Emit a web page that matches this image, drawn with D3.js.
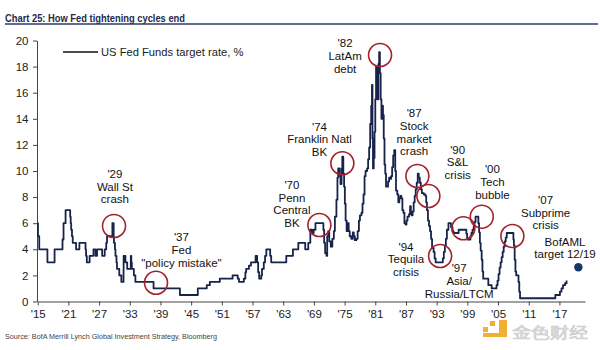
<!DOCTYPE html>
<html><head><meta charset="utf-8">
<script src="https://cdn.jsdelivr.net/npm/d3@7"></script>
<style>
body{margin:0;background:#fff}
svg{display:block}
text{font-family:"Liberation Sans",Arial,sans-serif}
</style></head>
<body><svg id="c" width="600" height="350"></svg>
<script>
// ---------- DATA ----------
const title = "Chart 25: How Fed tightening cycles end";
const seriesName = "US Fed Funds target rate, %";
const source = "Source:  BofA Merrill Lynch Global Investment Strategy, Bloomberg";

const xTickYears = [1915,1921,1927,1933,1939,1945,1951,1957,1963,1969,1975,1981,1987,1993,1999,2005,2011,2017];
const xTickLabels = ["'15","'21","'27","'33","'39","'45","'51","'57","'63","'69","'75","'81","'87","'93","'99","'05","'11","'17"];
const yTicks = [0,2,4,6,8,10,12,14,16,18,20];

// rate changes: year (decimal) at which the level starts, and the level (%)
const rateYears = [
1915.0,1915.05,1915.3,1916.9,1918.3,1919.85,1920.05,1920.45,1921.35,1921.45,1921.55,1921.7,1921.85,1922.5,1923.15,1924.35,1924.45,1924.6,1925.15,1925.9,
1926.3,1926.6,1927.6,1928.1,1928.4,1928.55,1929.6,1929.85,1929.9,1930.1,1930.2,1930.4,1930.5,1930.95,1931.35,1931.78,1931.8,1932.15,1932.5,1933.2,
1933.3,1933.4,1933.8,1934.1,1937.65,1942.8,1946.3,1948.05,1948.65,1950.6,1953.1,1954.1,1954.35,1955.3,1955.6,1955.75,1956.3,1956.7,1957.6,1957.9,
1958.1,1958.3,1958.7,1958.85,1959.2,1959.45,1959.7,1960.45,1960.65,1963.6,1964.9,1965.95,1967.3,1967.9,1968.3,1968.65,1968.95,1969.3,1970.85,1971.0,
1971.2,1971.45,1971.6,1971.8,1972.0,1972.3,1972.6,1972.9,1973.1,1973.4,1973.6,1973.75,1974.0,1974.2,1974.4,1974.55,1974.75,1974.9,1975.05,1975.2,
1975.4,1975.6,1975.8,1976.0,1976.3,1976.6,1976.8,1977.0,1977.3,1977.55,1977.8,1978.0,1978.3,1978.5,1978.7,1978.9,1979.1,1979.4,1979.6,1979.8,
1980.0,1980.2,1980.35,1980.45,1980.55,1980.7,1980.85,1981.0,1981.15,1981.3,1981.45,1981.6,1981.75,1981.9,1982.05,1982.2,1982.35,1982.5,1982.65,1982.8,
1982.95,1983.1,1983.3,1983.5,1983.7,1983.9,1984.1,1984.3,1984.5,1984.7,1984.9,1985.05,1985.3,1985.5,1985.7,1985.9,1986.1,1986.3,1986.5,1986.7,
1986.9,1987.1,1987.3,1987.6,1987.8,1987.95,1988.1,1988.3,1988.5,1988.7,1988.9,1989.1,1989.3,1989.5,1989.7,1989.9,1990.1,1990.5,1990.8,1990.95,
1991.1,1991.3,1991.5,1991.7,1991.9,1992.1,1992.4,1992.6,1992.8,1994.2,1994.4,1994.6,1994.8,1995.0,1995.3,1995.8,1996.1,1996.3,1997.3,1998.8,
1998.95,1999.05,1999.6,1999.8,2000.0,2000.25,2000.4,2000.6,2001.15,2001.3,2001.45,2001.6,2001.8,2001.95,2002.1,2003.1,2003.75,2004.7,2004.9,2005.1,
2005.3,2005.5,2005.7,2005.9,2006.1,2006.3,2006.5,2006.7,2008.0,2008.1,2008.25,2008.4,2008.55,2009.0,2009.15,2009.3,2016.2,2017.1,2017.4,2017.7,
2018.1,2018.4];
const rateValues = [
6,5,4,3,4,4.75,6,7,6.5,6,5.5,5,4.5,4,4.5,4,3.5,3,3.5,4,
3.5,4,3.5,4,4.5,5,6,5,4.5,4,3.5,3,2.5,2,1.5,2.5,3.5,3,2.5,3.5,
3,2.5,2,1.5,1,0.5,1,1.25,1.5,1.75,2,1.75,1.5,1.75,2.25,2.5,2.75,3,3.5,3,
2.25,1.75,2,2.5,3,3.5,4,3.5,3,3.5,4,4.5,4,4.5,5.5,5.25,5.5,6,5.5,4.5,
3.7,3.5,5.0,5.4,4.6,4.2,4.8,5.4,6.5,7.8,9.5,10.2,9.6,9.0,10.2,11.1,9.8,8.8,7.5,6.2,
5.4,6.0,5.4,5.0,4.8,5.3,5.0,4.7,4.8,5.4,6.2,6.6,6.8,7.5,8.2,9.6,10.0,10.2,10.9,11.8,
13.6,15.0,16.6,12.5,10.2,11.0,13.0,15.5,18.0,16.0,15.5,18.2,19.1,17.5,15.5,14.0,15.0,14.3,12.5,10.5,
9.8,8.8,8.8,9.2,9.5,9.4,9.6,10.3,11.2,11.6,10.0,8.5,8.2,7.6,7.9,8.1,7.9,7.0,6.8,6.0,
5.9,6.2,6.5,6.7,7.3,6.8,6.6,6.9,7.6,8.1,8.6,9.1,9.8,9.5,9.1,8.6,8.3,8.2,8.1,7.6,
7.0,6.2,5.8,5.4,4.8,4.1,3.8,3.3,3.0,3.3,3.8,4.3,4.8,5.5,6.0,5.7,5.4,5.25,5.5,5.2,
4.9,4.75,5.0,5.25,5.5,5.8,6.1,6.5,6.0,5.3,4.5,3.9,3.2,2.3,1.75,1.25,1.0,1.25,1.6,2.1,
2.6,3.0,3.4,3.8,4.2,4.6,4.9,5.25,4.75,4.3,3.2,2.3,2.0,1.5,0.75,0.25,0.5,0.75,1.0,1.25,
1.4,1.6];

// crisis circles (year, level)
const circleYears  = [1929.92,1938.13,1970.07,1974.56,1981.93,1989.23,1991.38,1993.67,1998.22,2001.82,2007.8];
const circleValues = [5.79,1.44,5.86,10.59,18.89,9.62,8.08,3.49,5.61,6.5,5.02];

// annotation labels: lines, anchor year and level of first line
const labelLines = [
  ["'29","Wall St","crash"],
  ["'37","Fed","\"policy mistake\""],
  ["'70","Penn","Central","BK"],
  ["'74","Franklin Natl","BK"],
  ["'82","LatAm","debt"],
  ["'87","Stock","market","crash"],
  ["'90","S&L","crisis"],
  ["'94","Tequila","crisis"],
  ["'97","Asia/","Russia/LTCM"],
  ["'00","Tech","bubble"],
  ["'07","Subprime","crisis"],
  ["BofAML","target 12/19"]
];
const labelYears  = [1930.1,1943.1,1964.7,1970.1,1975.1,1988.6,1997.1,1987.0,1997.4,2003.9,2014.3,2018.1];
const labelValues = [9.77,4.92,8.93,13.39,19.79,14.42,11.64,4.2,2.54,10.13,7.78,4.58];

// BofAML target end-2019
const targetYear = [2020.7];
const targetValue = [2.62];

// ---------- DRAW ----------
const svg = d3.select('#c');
const x = d3.scaleLinear().domain([1915,2022]).range([37.7,585]);
const y = d3.scaleLinear().domain([0,20]).range([301.5,40.5]);
const navy = "#17234a";
const red = "#a3222b";

// title
svg.append('text').attr('x',5).attr('y',21.5).text(title)
  .attr('font-weight','bold').attr('font-size',11.5).attr('fill','#1f2a4d')
  .attr('textLength',180).attr('lengthAdjust','spacingAndGlyphs');
svg.append('line').attr('x1',5).attr('x2',598).attr('y1',24).attr('y2',24)
  .attr('stroke','#2b3a6b').attr('stroke-width',1.6);

// axes
const xAxis = d3.axisBottom(x).tickValues(xTickYears).tickFormat((d,i)=>xTickLabels[i])
  .tickSizeInner(4).tickSizeOuter(0).tickPadding(4.5);
const gx = svg.append('g').attr('transform',`translate(0,${y(0)})`).call(xAxis);
const yAxis = d3.axisLeft(y).tickValues(yTicks).tickSizeInner(4).tickSizeOuter(0).tickPadding(4.5);
const gy = svg.append('g').attr('transform',`translate(${x(1915)-0.7},0)`).call(yAxis);
[gx,gy].forEach(g=>{
  g.selectAll('text').attr('font-size',11.5).attr('fill','#222')
    .style('font-family','"Liberation Sans",Arial,sans-serif');
  g.selectAll('path,line').attr('stroke','#444').attr('stroke-width',1);
});

// legend
svg.append('line').attr('x1',63).attr('x2',98).attr('y1',52).attr('y2',52)
  .attr('stroke','#111').attr('stroke-width',1.6);
svg.append('text').attr('x',101).attr('y',52).attr('dy','0.35em').attr('font-size',11.2)
  .attr('fill','#222').text(seriesName);

// series line
const pts = rateYears.map((yr,i)=>[yr,rateValues[i]]);
const line = d3.line().x(d=>x(d[0])).y(d=>y(d[1])).curve(d3.curveStepAfter);
svg.append('path').datum(pts).attr('d',line).attr('fill','none')
  .attr('stroke',navy).attr('stroke-width',1.8).attr('stroke-linejoin','round');

// circles
svg.selectAll('circle.crisis').data(circleYears).enter().append('circle')
  .attr('class','crisis').attr('cx',d=>x(d)).attr('cy',(d,i)=>y(circleValues[i]))
  .attr('r',11.5).attr('fill','none').attr('stroke',red).attr('stroke-width',1.6);

// labels
labelLines.forEach((lines,i)=>{
  const t = svg.append('text').attr('x',x(labelYears[i])).attr('y',y(labelValues[i]))
    .attr('text-anchor','middle').attr('font-size',11.5).attr('fill','#111');
  lines.forEach((l,j)=>{
    t.append('tspan').attr('x',x(labelYears[i])).attr('dy', j===0 ? '0.35em' : '1.1em').text(l);
  });
});

// target dot
svg.append('circle').attr('cx',x(targetYear[0])).attr('cy',y(targetValue[0])).attr('r',4.2).attr('fill','#1a3568');

// source
svg.append('text').attr('x',5).attr('y',339).attr('font-size',7.5).attr('fill','#444')
  .attr('textLength',212).attr('lengthAdjust','spacingAndGlyphs').text(source);

// watermark
const wm = svg.append('g').attr('opacity',0.9);
wm.append('rect').attr('x',490).attr('y',321).attr('width',5).attr('height',5).attr('fill','#f2a71b');
wm.append('rect').attr('x',483).attr('y',327).attr('width',5).attr('height',5).attr('fill','#f2a71b');
wm.append('rect').attr('x',499).attr('y',320).attr('width',8).attr('height',17).attr('fill','#f2a71b');
wm.append('rect').attr('x',483).attr('y',333).attr('width',24).attr('height',4).attr('fill','#f2a71b');
wm.append('text').attr('x',512).attr('y',338).attr('font-size',15)
  .attr('textLength',76).attr('lengthAdjust','spacingAndGlyphs')
  .style('font-family','"Noto Sans CJK SC",sans-serif').attr('fill','#e4e4e4')
  .attr('stroke','#c4c4c4').attr('stroke-width',0.6).text("金色财经");
</script></body></html>
